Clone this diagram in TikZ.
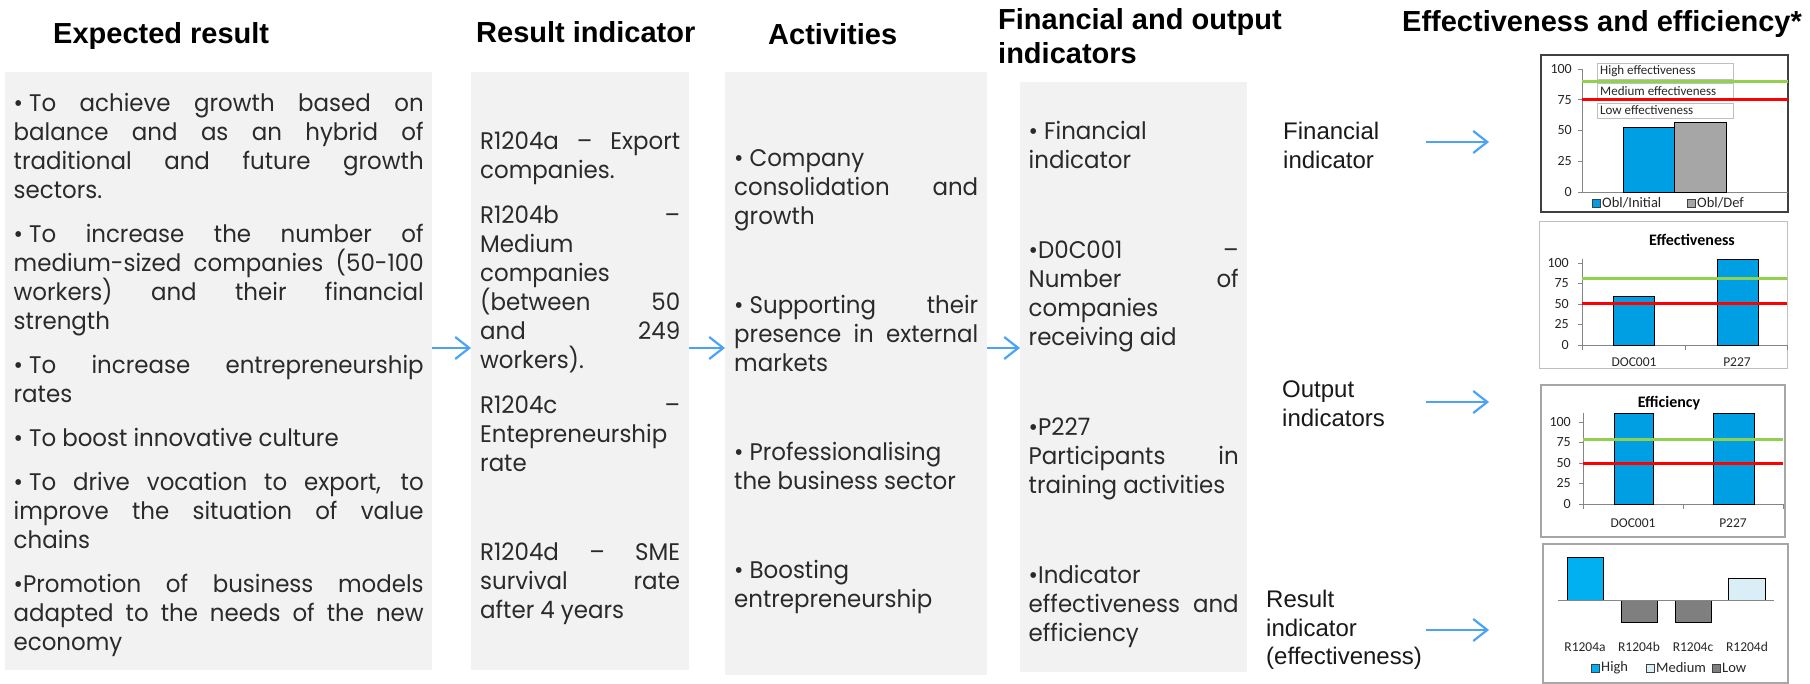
\documentclass[tikz,border=0pt]{standalone}
\usepackage{fontspec}
\setmainfont{Poppins}[FakeStretch=0.955]
\newfontfamily\headfont{Liberation Sans}
\newfontfamily\chartfont{Carlito}
\usetikzlibrary{arrows.meta}
\definecolor{boxgray}{HTML}{F2F2F2}
\definecolor{bodytext}{HTML}{2A2A2A}
\definecolor{arrowblue}{HTML}{4BA3F7}
\definecolor{barblue}{HTML}{009FE3}
\definecolor{barcyan}{HTML}{00B0F0}
\definecolor{barlight}{HTML}{DAEEF8}
\definecolor{bardark}{HTML}{7F7F7F}
\definecolor{bargray}{HTML}{A6A6A6}
\definecolor{lgreen}{HTML}{92D050}
\definecolor{lred}{HTML}{FF0000}
\definecolor{framegray}{HTML}{A6A6A6}
\definecolor{axisgray}{HTML}{868686}
\newcommand\mygap[1]{\par\vskip#1pt\relax}
\newcommand\bul{•\hspace{6pt}}
\newcommand\boxsetup{\parindent=0pt\parskip=0pt\tolerance=10000\hbadness=10000\hfuzz=50pt\hyphenpenalty=10000\exhyphenpenalty=10000\emergencystretch=0pt}
\begin{document}
\begin{tikzpicture}[x=1pt,y=-1pt,
  colbox/.style={fill=boxgray, inner sep=0pt, anchor=north west, align=justify, text=bodytext,
     font=\fontsize{24}{29}\selectfont, execute at begin node=\boxsetup},
  heading/.style={font=\headfont\bfseries\fontsize{29}{34}\selectfont, inner sep=0pt, text=black},
  sidelabel/.style={font=\headfont\fontsize{24}{28.5}\selectfont, inner sep=0pt, anchor=north west, align=left, text=black!90},
  arr/.style={draw=arrowblue, line width=2.2pt, -{Straight Barb[length=14pt,width=22pt,line width=2.2pt]}},
  bar/.style={draw=black, line width=0.8pt},
  gline/.style={draw=lgreen, line width=3pt},
  rline/.style={draw=lred, line width=3pt},
  axis/.style={draw=axisgray, line width=0.9pt},
  ticklab/.style={font=\chartfont\fontsize{14}{16}\selectfont, inner sep=0pt, anchor=east, text=black!85},
  catlab/.style={font=\chartfont\fontsize{13.5}{16}\selectfont, inner sep=0pt, text=black!85},
  leglab/.style={font=\chartfont\fontsize{14.5}{16}\selectfont, inner sep=0pt, anchor=west, text=black!85},
  levlab/.style={font=\chartfont\fontsize{13}{15}\selectfont, inner sep=0pt, anchor=west, text=black!85},
  levbox/.style={draw=black!25, fill=white, line width=0.7pt},
  ctitle/.style={font=\chartfont\bfseries\fontsize{16}{18}\selectfont, inner sep=0pt},
  legsq/.style={draw=black!75, line width=0.6pt},
  frame/.style={draw=framegray, line width=1.2pt}
]
\useasboundingbox (0,0) rectangle (1810,684);
\fill[white] (0,0) rectangle (1810,684);

% headings
\node[heading, anchor=base west] (h1) at (53,44) {Expected result};
\node[heading, anchor=base west] (h2) at (476,43) {Result indicator};
\node[heading, anchor=base west] (h3) at (768,45) {Activities};
\node[heading, anchor=north west, align=left] (h4) at (998,8) {Financial and output\\indicators};
\node[heading, anchor=base west] (h5) at (1402,32) {Effectiveness and efficiency*};

% column boxes
\node[colbox, minimum width=427pt, minimum height=598pt, text width=410pt] (b1) at (5,72) {%
\vskip-3pt
\bul To achieve growth based on\linebreak balance and as an hybrid of\linebreak traditional and future growth\linebreak sectors.\mygap{15}
\bul To increase the number of\linebreak medium-sized companies (50-100\linebreak workers) and their financial\linebreak strength\mygap{15}
\bul To increase entrepreneurship\linebreak rates\mygap{15}
\bul To boost innovative culture\mygap{15}
\bul To drive vocation to export, to\linebreak improve the situation of value\linebreak chains\mygap{15}
•Promotion of business models\linebreak adapted to the needs of the new\linebreak economy};

\node[colbox, minimum width=218pt, minimum height=598pt, text width=200pt] (b2) at (471,72) {%
\vskip2pt
R1204a – Export\linebreak companies.\mygap{16}
R1204b –\linebreak Medium\linebreak companies\linebreak (between 50\linebreak and 249\linebreak workers).\mygap{16}
R1204c –\linebreak Entepreneurship\linebreak rate\mygap{60}
R1204d – SME\linebreak survival rate\linebreak after 4 years};

\node[colbox, minimum width=262pt, minimum height=603pt, text width=244pt] (b3) at (725,72) {%
\vskip3pt
\bul Company\linebreak consolidation and\linebreak growth\mygap{60}
\bul Supporting their\linebreak presence in external\linebreak markets\mygap{60}
\bul Professionalising\linebreak the business sector\mygap{60}
\bul Boosting\linebreak entrepreneurship};

\node[colbox, minimum width=227pt, minimum height=590pt, text width=210pt] (b4) at (1020,82) {%
\vskip4pt
\bul Financial\linebreak indicator\mygap{61}
•D0C001 –\linebreak Number of\linebreak companies\linebreak receiving aid\mygap{61}
•P227\linebreak Participants in\linebreak training activities\mygap{61}
•Indicator\linebreak effectiveness and\linebreak efficiency};

% main arrows
\coordinate (ay) at (0,348);
\draw[arr] (b1.east |- ay) -- (b2.west |- ay);
\draw[arr] (b2.east |- ay) -- (b3.west |- ay);
\draw[arr] (b3.east |- ay) -- (b4.west |- ay);

% side labels
\node[sidelabel] (l1) at (1283,122) {Financial\\indicator};
\node[sidelabel] (l2) at (1282,381) {Output\\indicators};
\node[sidelabel] (l3) at (1266,590) {Result\\indicator\\(effectiveness)};
\coordinate (r1s) at (1426,142); \coordinate (r1e) at (1489,142);
\coordinate (r2s) at (1426,402); \coordinate (r2e) at (1489,402);
\coordinate (r3s) at (1426,630); \coordinate (r3e) at (1489,630);
\draw[arr] (r1s) -- (r1e);
\draw[arr] (r2s) -- (r2e);
\draw[arr] (r3s) -- (r3e);

% ---------- chart 1 ----------
\draw[draw=black!75, line width=1.3pt, fill=white] (1541,55) rectangle (1788,212);
\draw[axis] (1582,69) -- (1582,192) -- (1788,192);
\foreach \v/\yy in {100/69,75/99.75,50/130.5,25/161.25,0/192} {
  \draw[axis] (1578,\yy) -- (1582,\yy);
  \node[ticklab] (c1y\v) at (1572,\yy) {\v};
}
\fill[barblue] (1623,127) rectangle (1674,192);
\draw[bar] (1623,127) rectangle (1674,192);
\fill[bargray] (1674,122) rectangle (1726,192);
\draw[bar] (1674,122) rectangle (1726,192);
\draw[levbox] (1597,63) rectangle (1733,79);
\draw[levbox] (1597,83) rectangle (1733,100);
\draw[levbox] (1597,103) rectangle (1733,118);
\node[levlab] (c1hi) at (1600,71) {High effectiveness};
\node[levlab] (c1me) at (1600,91.5) {Medium effectiveness};
\node[levlab] (c1lo) at (1600,110.5) {Low effectiveness};
\draw[gline] (1582,81.5) -- (1788,81.5);
\draw[rline] (1582,99.5) -- (1788,99.5);
\fill[barblue] (1592,199) rectangle (1600,207); \draw[legsq] (1592,199) rectangle (1600,207);
\node[leglab] (c1l1) at (1602,203) {Obl/Initial};
\fill[bargray] (1687,199) rectangle (1695,207); \draw[legsq] (1687,199) rectangle (1695,207);
\node[leglab] (c1l2) at (1697,203) {Obl/Def};

% ---------- chart 2 ----------
\draw[draw=black!25, line width=1pt] (1539,222) rectangle (1787,369);
\node[ctitle] (c2t) at (1692,240) {Effectiveness};
\draw[axis] (1582,259) -- (1582,345) -- (1787,345);
\foreach \xx in {1582,1685,1787} \draw[axis] (\xx,345) -- (\xx,350);
\foreach \v/\yy in {100/263,75/283.5,50/304,25/324.5,0/345} {
  \draw[axis] (1578,\yy) -- (1582,\yy);
  \node[ticklab] (c2y\v) at (1569,\yy) {\v};
}
\fill[barblue] (1613,296) rectangle (1654,345); \draw[bar] (1613,296) rectangle (1654,345);
\fill[barblue] (1717,259) rectangle (1758,345); \draw[bar] (1717,259) rectangle (1758,345);
\draw[gline] (1582,279) -- (1787,279);
\draw[rline] (1582,304) -- (1787,304);
\node[catlab] (c2a) at (1634,362) {DOC001};
\node[catlab] (c2b) at (1737,362) {P227};

% ---------- chart 3 ----------
\draw[frame] (1541,385) rectangle (1785,537);
\node[ctitle] (c3t) at (1669,403) {Efficiency};
\draw[axis] (1583,413) -- (1583,504) -- (1783,504);
\foreach \xx in {1583,1683,1783} \draw[axis] (\xx,504) -- (\xx,509);
\foreach \v/\yy in {100/422,75/442.5,50/463,25/483.5,0/504} {
  \draw[axis] (1579,\yy) -- (1583,\yy);
  \node[ticklab] (c3y\v) at (1571,\yy) {\v};
}
\fill[barblue] (1614,413) rectangle (1653,504); \draw[bar] (1614,413) rectangle (1653,504);
\fill[barblue] (1713,413) rectangle (1754,504); \draw[bar] (1713,413) rectangle (1754,504);
\draw[gline] (1583,439) -- (1783,439);
\draw[rline] (1583,463.5) -- (1783,463.5);
\node[catlab] (c3a) at (1633,523) {DOC001};
\node[catlab] (c3b) at (1733,523) {P227};

% ---------- chart 4 ----------
\draw[frame] (1543,544) rectangle (1788,683);
\fill[barcyan] (1567,557) rectangle (1603,600); \draw[bar] (1567,557) rectangle (1603,600);
\fill[bardark] (1621,600) rectangle (1657,622); \draw[bar] (1621,600) rectangle (1657,622);
\fill[bardark] (1675,600) rectangle (1711,622); \draw[bar] (1675,600) rectangle (1711,622);
\fill[barlight] (1728,578) rectangle (1765,600); \draw[bar] (1728,578) rectangle (1765,600);
\draw[axis] (1558,600) -- (1774,600);
\node[catlab] (c4a) at (1585,647) {R1204a};
\node[catlab] (c4b) at (1639,647) {R1204b};
\node[catlab] (c4c) at (1693,647) {R1204c};
\node[catlab] (c4d) at (1747,647) {R1204d};
\fill[barcyan] (1591,664) rectangle (1599,672); \draw[legsq] (1591,664) rectangle (1599,672);
\node[leglab] (c4l1) at (1601,668) {High};
\fill[barlight] (1646,664) rectangle (1654,672); \draw[legsq] (1646,664) rectangle (1654,672);
\node[leglab] (c4l2) at (1656,668) {Medium};
\fill[bardark] (1712,664) rectangle (1720,672); \draw[legsq] (1712,664) rectangle (1720,672);
\node[leglab] (c4l3) at (1722,668) {Low};
\end{tikzpicture}
\end{document}
